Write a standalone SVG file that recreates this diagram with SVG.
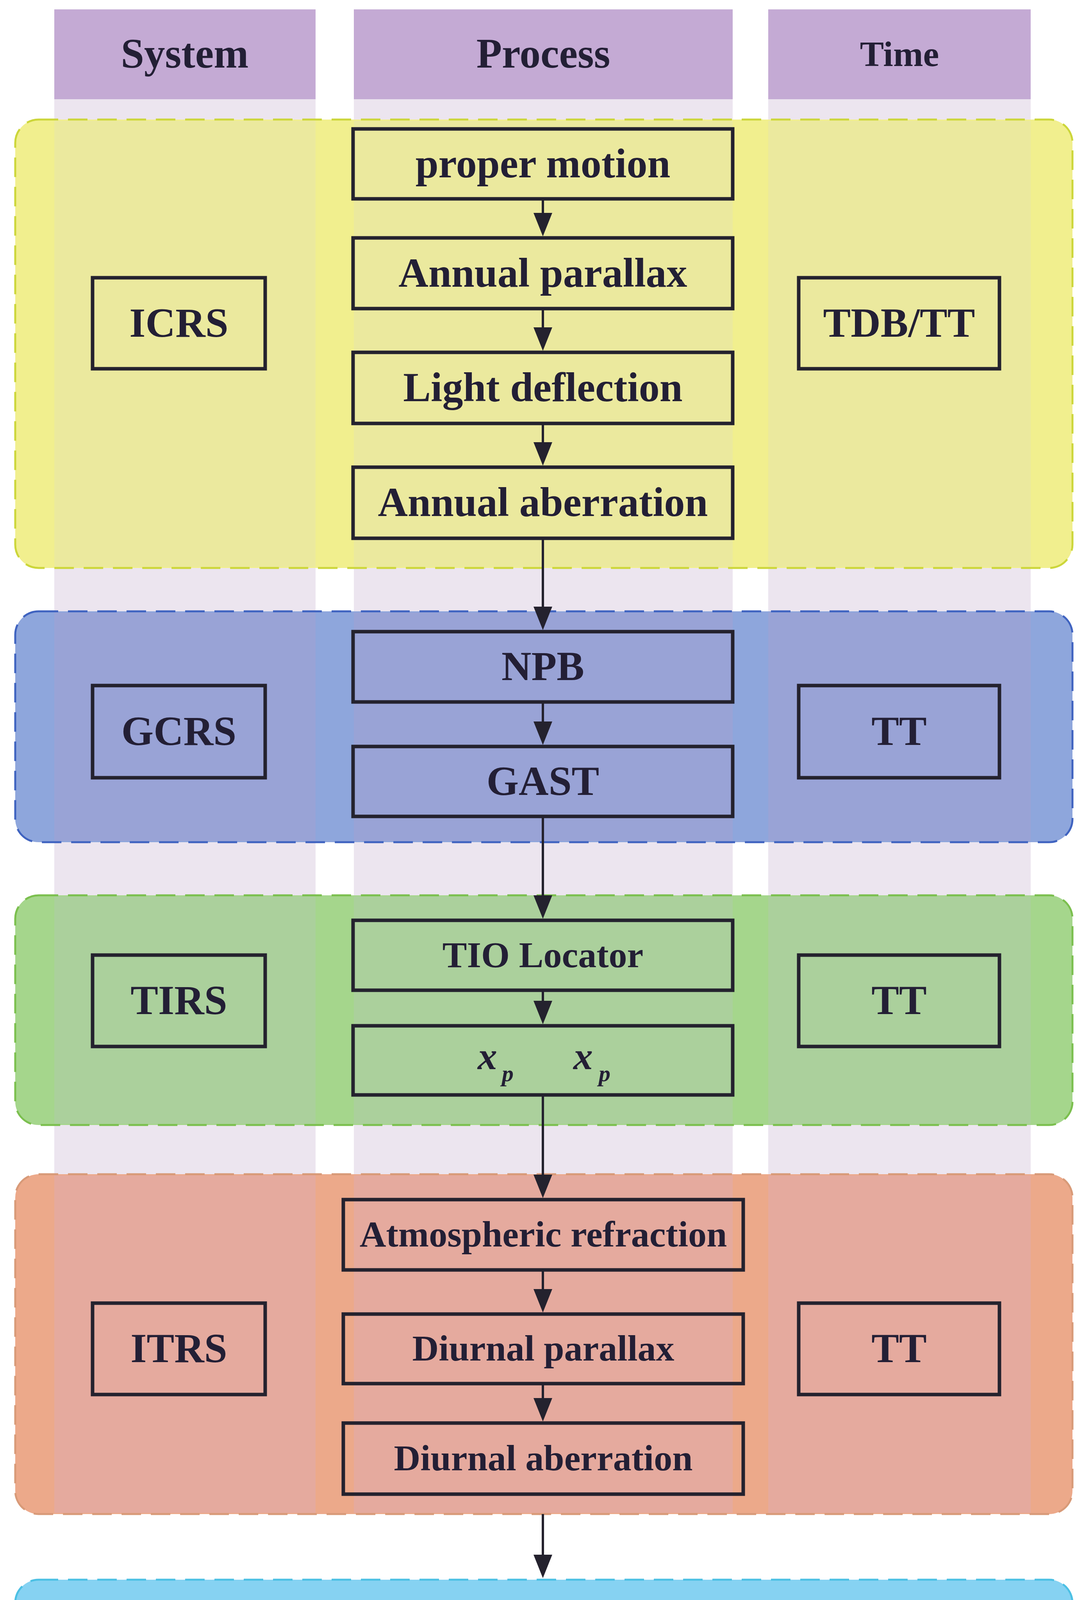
<svg xmlns="http://www.w3.org/2000/svg" width="2796" height="4408" viewBox="0 0 2796 4408">
<defs>
<marker id="ah" viewBox="0 0 60 48" markerWidth="60" markerHeight="48" refX="20" refY="24" orient="auto" markerUnits="userSpaceOnUse">
<path d="M0,0 L60,24 L0,48 z" fill="#24222e"/>
</marker>
<style>
.hdr{fill:#c4aad4}
.stripe{fill:#ece5ef}
.box{stroke:#24222e;stroke-width:9;fill:none}
.grp{stroke-width:5;stroke-dasharray:50 25;fill:none}
.t{font-family:"Liberation Serif","Times New Roman",serif;font-weight:bold;fill:#231f35;text-anchor:middle}
.conn line{stroke:#24222e;stroke-width:6;marker-end:url(#ah)}
</style>
</defs>
<rect width="2796" height="4408" fill="#ffffff"/>

<g id="headers">
<rect class="hdr" x="139" y="24" width="669" height="230"/>
<rect class="hdr" x="906" y="24" width="970" height="230"/>
<rect class="hdr" x="1967" y="24" width="672" height="230"/>
<text class="t" x="473" y="173" font-size="107" fill="#2a2140">System</text>
<text class="t" x="1391" y="173" font-size="107">Process</text>
<text class="t" x="2303" y="169" font-size="92">Time</text>
</g>

<g id="stripes">
<rect class="stripe" x="139" y="254" width="669" height="2800"/>
<rect class="stripe" x="906" y="254" width="970" height="2800"/>
<rect class="stripe" x="1967" y="254" width="672" height="2800"/>
</g>

<g id="group-icrs">
<rect x="39" y="306" width="2707" height="1148" rx="60" fill="#f1ef8e"/>
<rect x="139" y="309" width="669" height="1142" fill="#ebe99e"/>
<rect x="906" y="309" width="970" height="1142" fill="#ebe99e"/>
<rect x="1967" y="309" width="672" height="1142" fill="#ebe99e"/>
<rect class="grp" x="39" y="306" width="2707" height="1148" rx="60" stroke="#ccd63a"/>
</g>
<g id="group-gcrs">
<rect x="39" y="1565" width="2707" height="591" rx="60" fill="#8ea6dc"/>
<rect x="139" y="1568" width="669" height="585" fill="#99a3d6"/>
<rect x="906" y="1568" width="970" height="585" fill="#99a3d6"/>
<rect x="1967" y="1568" width="672" height="585" fill="#99a3d6"/>
<rect class="grp" x="39" y="1565" width="2707" height="591" rx="60" stroke="#3f63c0"/>
</g>
<g id="group-tirs">
<rect x="39" y="2292" width="2707" height="588" rx="60" fill="#a5d68c"/>
<rect x="139" y="2295" width="669" height="582" fill="#abd09c"/>
<rect x="906" y="2295" width="970" height="582" fill="#abd09c"/>
<rect x="1967" y="2295" width="672" height="582" fill="#abd09c"/>
<rect class="grp" x="39" y="2292" width="2707" height="588" rx="60" stroke="#7bbf4e"/>
</g>
<g id="group-itrs">
<rect x="39" y="3006" width="2707" height="870" rx="60" fill="#eca98a"/>
<rect x="139" y="3009" width="669" height="864" fill="#e5aa9e"/>
<rect x="906" y="3009" width="970" height="864" fill="#e5aa9e"/>
<rect x="1967" y="3009" width="672" height="864" fill="#e5aa9e"/>
<rect class="grp" x="39" y="3006" width="2707" height="870" rx="60" stroke="#d89a78"/>
</g>
<g id="navigation">
<rect x="39" y="4044" width="2707" height="318" rx="60" fill="#86d2f2"/>
<rect class="grp" x="39" y="4044" width="2707" height="318" rx="60" stroke="#4cc0e4"/>
<text class="t" x="1392" y="4235" font-size="92">Navigation coordinate system</text>
</g>

<g id="icrs"><rect class="box" x="237" y="711" width="442" height="233"/><text class="t" x="458" y="862" font-size="106">ICRS</text></g>
<g id="tdbtt"><rect class="box" x="2045" y="711" width="514" height="233"/><text class="t" x="2302" y="862" font-size="106">TDB/TT</text></g>
<g id="proper-motion"><rect class="box" x="904" y="330" width="972" height="179"/><text class="t" x="1390" y="454" font-size="106">proper motion</text></g>
<g id="annual-parallax"><rect class="box" x="904" y="609" width="972" height="181"/><text class="t" x="1390" y="734" font-size="106">Annual parallax</text></g>
<g id="light-deflection"><rect class="box" x="904" y="902" width="972" height="182"/><text class="t" x="1390" y="1027" font-size="106">Light deflection</text></g>
<g id="annual-aberration"><rect class="box" x="904" y="1196" width="972" height="182"/><text class="t" x="1390" y="1321" font-size="106">Annual aberration</text></g>

<g id="gcrs"><rect class="box" x="237" y="1755" width="442" height="236"/><text class="t" x="458" y="1907" font-size="106">GCRS</text></g>
<g id="tt1"><rect class="box" x="2045" y="1755" width="514" height="236"/><text class="t" x="2302" y="1907" font-size="106">TT</text></g>
<g id="npb"><rect class="box" x="904" y="1617" width="972" height="180"/><text class="t" x="1390" y="1741" font-size="106">NPB</text></g>
<g id="gast"><rect class="box" x="904" y="1911" width="972" height="179"/><text class="t" x="1390" y="2035" font-size="106">GAST</text></g>

<g id="tirs"><rect class="box" x="237" y="2445" width="442" height="234"/><text class="t" x="458" y="2596" font-size="106">TIRS</text></g>
<g id="tt2"><rect class="box" x="2045" y="2445" width="514" height="234"/><text class="t" x="2302" y="2596" font-size="106">TT</text></g>
<g id="tio-locator"><rect class="box" x="904" y="2356" width="972" height="179"/><text class="t" x="1390" y="2476" font-size="94">TIO Locator</text></g>
<g id="polar-motion"><rect class="box" x="904" y="2626" width="972" height="177"/>
<text class="t" x="1248" y="2737" font-size="100" font-style="italic">x</text><text class="t" x="1300" y="2768" font-size="60" font-style="italic">p</text>
<text class="t" x="1493" y="2737" font-size="100" font-style="italic">x</text><text class="t" x="1548" y="2768" font-size="60" font-style="italic">p</text>
</g>

<g id="itrs"><rect class="box" x="237" y="3336" width="442" height="234"/><text class="t" x="458" y="3487" font-size="106">ITRS</text></g>
<g id="tt3"><rect class="box" x="2045" y="3336" width="514" height="234"/><text class="t" x="2302" y="3487" font-size="106">TT</text></g>
<g id="atmospheric-refraction"><rect class="box" x="879" y="3071" width="1024" height="180"/><text class="t" x="1391" y="3191" font-size="94">Atmospheric refraction</text></g>
<g id="diurnal-parallax"><rect class="box" x="879" y="3364" width="1024" height="178"/><text class="t" x="1391" y="3483" font-size="94">Diurnal parallax</text></g>
<g id="diurnal-aberration"><rect class="box" x="879" y="3643" width="1024" height="182"/><text class="t" x="1391" y="3764" font-size="94">Diurnal aberration</text></g>

<g id="connectors" class="conn">
<line x1="1390" y1="509" x2="1390" y2="565"/>
<line x1="1390" y1="790" x2="1390" y2="858"/>
<line x1="1390" y1="1084" x2="1390" y2="1152"/>
<line x1="1390" y1="1378" x2="1390" y2="1573"/>
<line x1="1390" y1="1797" x2="1390" y2="1867"/>
<line x1="1390" y1="2090" x2="1390" y2="2312"/>
<line x1="1390" y1="2535" x2="1390" y2="2582"/>
<line x1="1390" y1="2803" x2="1390" y2="3027"/>
<line x1="1390" y1="3251" x2="1390" y2="3320"/>
<line x1="1390" y1="3542" x2="1390" y2="3599"/>
<line x1="1390" y1="3876" x2="1390" y2="4000"/>
</g>
</svg>
